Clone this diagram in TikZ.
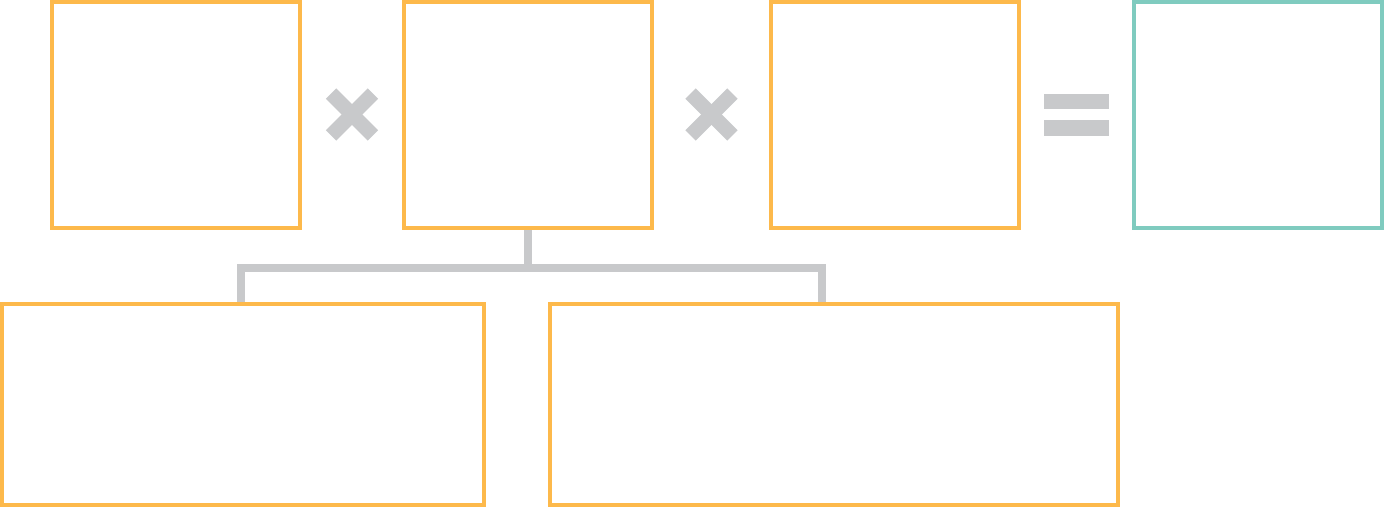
\documentclass[tikz,border=0pt]{standalone}
\usetikzlibrary{backgrounds,calc}
\definecolor{boxorange}{HTML}{FDB94B}
\definecolor{boxteal}{HTML}{7FCBBF}
\definecolor{opgray}{HTML}{C8C9CB}
\tikzset{
  topbox/.style={draw=boxorange, line width=4pt, rectangle, inner sep=0pt, minimum width=248pt, minimum height=226pt},
  resultbox/.style={topbox, draw=boxteal},
  lowbox/.style={draw=boxorange, line width=4pt, rectangle, inner sep=0pt, minimum height=201pt},
  conn/.style={draw=opgray, line width=8pt, line join=miter},
  opsign/.style={draw=opgray, line width=14.6pt, line cap=butt},
  eqbar/.style={fill=opgray},
}
\begin{document}
\begin{tikzpicture}[x=1pt,y=-1pt]
\useasboundingbox (0,0) rectangle (1384,507);
\node[topbox] (b1) at (176,115) {};
\node[topbox] (b2) at (528,115) {};
\node[topbox] (b3) at (895,115) {};
\node[resultbox] (b4) at (1258,115) {};
\node[lowbox, minimum width=482pt] (bl) at (243,404.5) {};
\node[lowbox, minimum width=568pt] (br) at (834,404.5) {};
% multiplication signs
\coordinate (m1) at (352,114.5);
\coordinate (m2) at (711.5,114.5);
\foreach \c in {m1,m2}{
  \draw[opsign] ($(\c)+(-20.9,-20.9)$) -- ($(\c)+(20.9,20.9)$);
  \draw[opsign] ($(\c)+(-20.9,20.9)$) -- ($(\c)+(20.9,-20.9)$);
}
% equals sign
\fill[eqbar] (1044,94) rectangle (1109,109);
\fill[eqbar] (1044,120) rectangle (1109,136);
% connectors
\coordinate (jl) at (241,268);
\coordinate (jr) at (822,268);
\begin{scope}[on background layer]
  \draw[conn] (b2.south) |- (jl) -- (jl |- bl.north);
  \draw[conn] (b2.south) |- (jr) -- (jr |- br.north);
\end{scope}
\end{tikzpicture}
\end{document}
